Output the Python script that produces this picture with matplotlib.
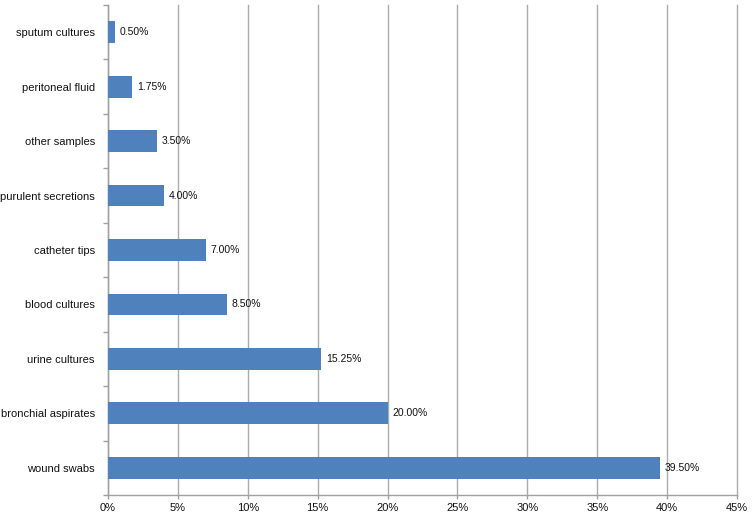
import matplotlib
matplotlib.use("Agg")
import matplotlib.pyplot as plt
import numpy as np
from matplotlib.ticker import FixedLocator, PercentFormatter

categories = ["wound swabs", "bronchial aspirates", "urine cultures", "blood cultures",
              "catheter tips", "purulent secretions", "other samples", "peritoneal fluid",
              "sputum cultures"]
values = [39.50, 20.00, 15.25, 8.50, 7.00, 4.00, 3.50, 1.75, 0.50]
xticks = [0, 5, 10, 15, 20, 25, 30, 35, 40, 45]

plt.rcParams['font.family'] = ['Liberation Sans', 'DejaVu Sans']

fig = plt.figure(figsize=(7.52, 5.17), dpi=100)
ax = fig.add_axes([108/752, 1-495/517, (737-108)/752, (495-5)/517])

y = np.arange(len(categories))
ax.barh(y, values, height=0.4, color="#4F81BD", zorder=3)
for yi, v in zip(y, values):
    ax.text(v + 0.36, yi, f"{v:.2f}%", va="center", ha="left", fontsize=7.5, color="#111111", zorder=4)

ax.set_xlim(0, 45)
ax.set_ylim(-0.5, len(categories) - 0.5)
ax.set_xticks(xticks)
ax.xaxis.set_major_formatter(PercentFormatter(decimals=0))
ax.set_yticks(y)
ax.set_yticklabels(categories)
ax.yaxis.set_minor_locator(FixedLocator(np.arange(-0.5, len(categories), 1)))
ax.tick_params(axis="y", which="major", length=0, labelsize=8, pad=9.5, labelcolor="#111111")
ax.tick_params(axis="y", which="minor", length=3.5, color="#A0A0A0", width=1)
ax.tick_params(axis="x", which="major", length=3, color="#A0A0A0", width=1, labelsize=8,
               pad=2.5, labelcolor="#111111")

ax.grid(axis="x", color="#ABABAB", linewidth=1, zorder=0)
for gl in ax.get_xgridlines():
    gl.set_clip_on(False)
for s in ["top", "right"]:
    ax.spines[s].set_visible(False)
for s in ["left", "bottom"]:
    ax.spines[s].set_color("#A0A0A0")
    ax.spines[s].set_linewidth(1)

fig.savefig("out.png", dpi=100)
